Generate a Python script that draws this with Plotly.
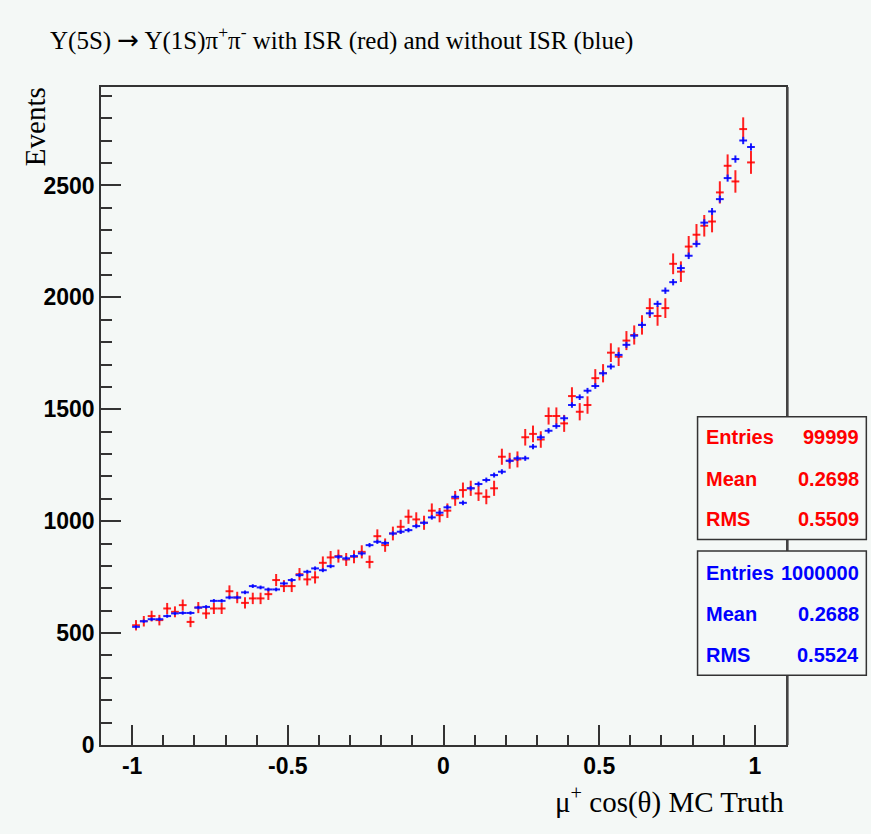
import numpy as np
import plotly.graph_objects as go

# ---- data ----
x_min, x_max, n_bins = -1.0, 1.0, 80

red_counts = [535, 553, 576, 558, 610, 595, 625, 550, 614, 588,
              610, 610, 687, 659, 635, 655, 655, 674, 737, 710,
              710, 763, 740, 749, 814, 838, 844, 829, 841, 863,
              818, 933, 893, 945, 975, 1020, 1008, 993, 1047, 1027,
              1047, 1102, 1139, 1147, 1124, 1109, 1147, 1288, 1270, 1276,
              1375, 1390, 1365, 1470, 1470, 1437, 1559, 1489, 1519, 1639,
              1661, 1753, 1735, 1807, 1832, 1877, 1952, 1917, 1952, 2150,
              2115, 2227, 2280, 2320, 2339, 2469, 2588, 2518, 2752, 2603]

blue_counts = [528, 553, 562, 562, 576, 588, 590, 590, 614, 617,
               644, 644, 659, 659, 682, 710, 704, 695, 695, 722,
               737, 759, 774, 789, 781, 799, 841, 834, 844, 856,
               893, 908, 903, 945, 953, 960, 978, 993, 1017, 1038,
               1062, 1109, 1082, 1147, 1166, 1184, 1206, 1221, 1270, 1281,
               1281, 1333, 1375, 1404, 1425, 1460, 1519, 1554, 1583, 1604,
               1661, 1691, 1743, 1788, 1829, 1877, 1929, 1971, 2030, 2068,
               2131, 2186, 2239, 2334, 2384, 2439, 2533, 2618, 2701, 2672]

blue_scale = 0.1  # 1,000,000 entries drawn normalised to the 99,999 sample

x_tick_vals = [-1, -0.5, 0, 0.5, 1]
x_tick_text = ["-1", "-0.5", "0", "0.5", "1"]

red_stats = [("Entries", "99999"), ("Mean", "0.2698"), ("RMS", "0.5509")]
blue_stats = [("Entries", "1000000"), ("Mean", "0.2688"), ("RMS", "0.5524")]

title_text = ("Υ(5S) <span style=\"font-family:DejaVu Sans;font-size:26px\">→</span> "
              "Υ(1S)π<sup>+</sup>π<sup>-</sup> with ISR (red) and without ISR (blue)")
x_title = "μ<sup>+</sup> cos(θ) MC Truth"
y_title = "Events"

# ---- derived ----
edges = np.linspace(x_min, x_max, n_bins + 1)
centers = 0.5 * (edges[:-1] + edges[1:])
half_w = np.full(n_bins, (x_max - x_min) / n_bins / 2)
red = np.array(red_counts, float)
blue = np.array(blue_counts, float)
red_err = np.sqrt(red)
blue_err = np.sqrt(blue / blue_scale) * blue_scale

BG = "#f4f8f6"
W, H = 871, 834
L, R, T, B = 101, 785.7, 87.3, 744.7

def px(xp):
    return (xp - L) / (R - L)

def py(yp):
    return (B - yp) / (B - T)

fig = go.Figure()
fig.add_trace(go.Scatter(
    x=centers, y=red, mode="markers",
    marker=dict(size=2, color="#ff0000"),
    error_x=dict(type="data", array=half_w, width=0, thickness=2, color="#ff2020"),
    error_y=dict(type="data", array=red_err, width=0, thickness=2, color="#ff2020"),
    showlegend=False, hoverinfo="x+y"))
fig.add_trace(go.Scatter(
    x=centers, y=blue, mode="markers",
    marker=dict(size=2, color="#0000ff"),
    error_x=dict(type="data", array=half_w, width=0, thickness=2, color="#1a1aff"),
    error_y=dict(type="data", array=blue_err, width=0, thickness=2, color="#1a1aff"),
    showlegend=False, hoverinfo="x+y"))

tick_font = dict(family="Liberation Sans, Arial", size=23, color="black", weight="bold")
serif = "Liberation Serif, Times New Roman, serif"

fig.update_layout(
    width=W, height=H, autosize=False,
    paper_bgcolor=BG, plot_bgcolor=BG,
    margin=dict(l=L, r=W - R, t=T, b=H - B, pad=0),
    title=dict(text=title_text, x=50 / W, xanchor="left", y=1 - 40 / H, yanchor="middle",
               font=dict(family=serif, size=25, color="black")),
    xaxis=dict(range=[-1.1, 1.1], tickmode="array", tickvals=x_tick_vals, ticktext=x_tick_text,
               ticks="inside", ticklen=20,
               tickwidth=1.5, tickcolor="#333", showgrid=False, zeroline=False,
               showline=True, linecolor="#333", linewidth=1.5, mirror=True,
               tickfont=tick_font, ticklabelstandoff=0,
               minor=dict(dtick=0.1, tick0=0, ticks="inside", ticklen=10,
                          tickwidth=1.5, tickcolor="#333", showgrid=False)),
    yaxis=dict(range=[0, 2940], dtick=500, tick0=0, ticks="inside", ticklen=20,
               tickwidth=1.5, tickcolor="#333", showgrid=False, zeroline=False,
               showline=True, linecolor="#333", linewidth=1.5, mirror=True,
               tickfont=tick_font, ticklabelstandoff=0,
               minor=dict(dtick=100, tick0=0, ticks="inside", ticklen=11,
                          tickwidth=1.5, tickcolor="#333", showgrid=False)),
)

# thicker right frame edge
fig.add_shape(type="line", xref="paper", yref="paper", x0=1.002, x1=1.002, y0=0, y1=1,
              line=dict(color="#444", width=2.5))

# axis titles
fig.add_annotation(text=y_title, textangle=-90, xref="paper", yref="paper",
                   x=px(35), y=py(85), xanchor="center", yanchor="top", showarrow=False,
                   font=dict(family=serif, size=29, color="black"))
fig.add_annotation(text=x_title, xref="paper", yref="paper",
                   x=1.0, y=py(800), xanchor="right", yanchor="middle", showarrow=False,
                   font=dict(family=serif, size=29, color="black"))

# stats boxes
def stats_box(top, bottom, rows, row_ys, color):
    fig.add_shape(type="rect", xref="paper", yref="paper",
                  x0=px(697.3), x1=px(866), y0=py(bottom), y1=py(top),
                  line=dict(color="#333", width=1.5), fillcolor=BG, layer="above")
    sf = dict(family="Liberation Sans, Arial", size=20, color=color, weight="bold")
    for (lab, val), yy in zip(rows, row_ys):
        fig.add_annotation(text=lab, xref="paper", yref="paper", x=px(704), y=py(yy),
                           xanchor="left", yanchor="middle", showarrow=False, font=sf)
        fig.add_annotation(text=val, xref="paper", yref="paper", x=px(861), y=py(yy),
                           xanchor="right", yanchor="middle", showarrow=False, font=sf)

stats_box(416.7, 539.3, red_stats, [437, 479, 519], "#ff0000")
stats_box(551, 675, blue_stats, [573, 614, 655], "#0000ff")

fig.write_html("out.html", config={"displayModeBar": False},
               post_script="document.body.style.margin='0';"
                           "document.body.style.background='" + BG + "';")
